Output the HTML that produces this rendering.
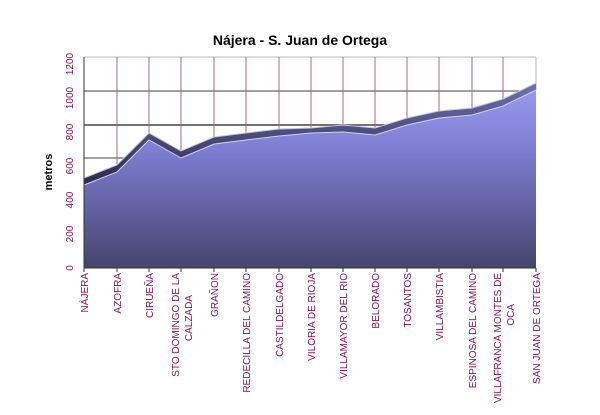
<!DOCTYPE html>
<html><head><meta charset="utf-8"><style>
body{margin:0;background:#fff;}
svg{display:block;font-family:"Liberation Sans",Arial,sans-serif;}
</style></head><body>
<svg width="600" height="415" viewBox="0 0 600 415">
<defs>
<linearGradient id="g" x1="0" y1="0" x2="0" y2="1" gradientUnits="objectBoundingBox">
<stop offset="0" stop-color="#9898f0"/><stop offset="0.35" stop-color="#7c7cd0"/><stop offset="1" stop-color="#45456e"/></linearGradient>
<linearGradient id="t" x1="0" y1="0" x2="0" y2="1">
<stop offset="0" stop-color="#7070b0"/><stop offset="1" stop-color="#2a2a48"/></linearGradient>
</defs>
<text x="300" y="45" font-size="14" font-weight="bold" text-anchor="middle">Nájera - S. Juan de Ortega</text>
<text transform="translate(52,172) rotate(-90)" font-size="11" font-weight="bold" text-anchor="middle">metros</text>
<g fill="#8b1050" font-size="10" text-anchor="middle">
<text transform="translate(73,268) rotate(-90)">0</text>
<text transform="translate(73,234) rotate(-90)">200</text>
<text transform="translate(73,200) rotate(-90)">400</text>
<text transform="translate(73,166) rotate(-90)">600</text>
<text transform="translate(73,132) rotate(-90)">800</text>
<text transform="translate(73,98) rotate(-90)">1000</text>
<text transform="translate(73,64) rotate(-90)">1200</text>
</g>
<line x1="84" y1="57" x2="536" y2="57" stroke="#bbb"/>
<line x1="536" y1="57" x2="536" y2="90" stroke="#bbb"/>
<line x1="84" y1="91" x2="536" y2="91" stroke="#444"/>
<line x1="84" y1="125" x2="536" y2="125" stroke="#444" stroke-width="1.5"/>
<line x1="84" y1="158" x2="400" y2="158" stroke="#444"/>
<g stroke="#b06080" stroke-width="1">
<line x1="117" y1="57" x2="117" y2="200"/><line x1="149" y1="57" x2="149" y2="200"/><line x1="181" y1="57" x2="181" y2="200"/><line x1="214" y1="57" x2="214" y2="200"/><line x1="246" y1="57" x2="246" y2="200"/><line x1="279" y1="57" x2="279" y2="200"/><line x1="311" y1="57" x2="311" y2="200"/><line x1="343" y1="57" x2="343" y2="200"/><line x1="375" y1="57" x2="375" y2="200"/><line x1="407" y1="57" x2="407" y2="200"/><line x1="439" y1="57" x2="439" y2="200"/><line x1="472" y1="57" x2="472" y2="200"/><line x1="503" y1="57" x2="503" y2="200"/>
</g>
<polygon fill="url(#t)" points="84,178 117,165 149,133 181,151 214,137 246,133 279,129 311,128 343,125 375,128 407,118 439,111 472,108 503,99 536,83 536,90 503,106 472,115 439,118 407,125 375,135 343,132 311,133 279,136 246,140 214,144 181,158 149,140 117,172 84,185"/>
<polyline fill="none" stroke="#c8c8e0" stroke-width="1" points="84,178 117,165 149,133 181,151 214,137 246,133 279,129 311,128 343,125 375,128 407,118 439,111 472,108 503,99 536,83"/>
<polygon fill="url(#g)" points="84,185 117,172 149,140 181,158 214,144 246,140 279,136 311,133 343,132 375,135 407,125 439,118 472,115 503,106 536,90 536,268 84,268"/>
<polyline fill="none" stroke="#d0d0f0" stroke-width="1" points="84,185 117,172 149,140 181,158 214,144 246,140 279,136 311,133 343,132 375,135 407,125 439,118 472,115 503,106 536,90"/>
<line x1="84" y1="57" x2="84" y2="268" stroke="#333"/>
<line x1="84" y1="268" x2="536" y2="268" stroke="#333"/>
<g stroke="#333"><line x1="84" y1="268" x2="84" y2="272"/><line x1="117" y1="268" x2="117" y2="272"/><line x1="149" y1="268" x2="149" y2="272"/><line x1="181" y1="268" x2="181" y2="272"/><line x1="214" y1="268" x2="214" y2="272"/><line x1="246" y1="268" x2="246" y2="272"/><line x1="279" y1="268" x2="279" y2="272"/><line x1="311" y1="268" x2="311" y2="272"/><line x1="343" y1="268" x2="343" y2="272"/><line x1="375" y1="268" x2="375" y2="272"/><line x1="407" y1="268" x2="407" y2="272"/><line x1="439" y1="268" x2="439" y2="272"/><line x1="472" y1="268" x2="472" y2="272"/><line x1="503" y1="268" x2="503" y2="272"/><line x1="536" y1="268" x2="536" y2="272"/></g>
<g fill="#8b1050" font-size="10" text-anchor="end">
<text transform="translate(88,273) rotate(-90)">NÁJERA</text>
<text transform="translate(121,273) rotate(-90)">AZOFRA</text>
<text transform="translate(153,273) rotate(-90)">CIRUEÑA</text>
<text transform="translate(179,273) rotate(-90)">STO DOMINGO DE LA</text>
<text transform="translate(192,273) rotate(-90)"><tspan x="-22">CALZADA</tspan></text>
<text transform="translate(218,273) rotate(-90)">GRAÑON</text>
<text transform="translate(250,273) rotate(-90)">REDECILLA DEL CAMINO</text>
<text transform="translate(283,273) rotate(-90)">CASTILDELGADO</text>
<text transform="translate(315,273) rotate(-90)">VILORIA DE RIOJA</text>
<text transform="translate(347,273) rotate(-90)">VILLAMAYOR DEL RIO</text>
<text transform="translate(379,273) rotate(-90)">BELORADO</text>
<text transform="translate(411,273) rotate(-90)">TOSANTOS</text>
<text transform="translate(443,273) rotate(-90)">VILLAMBISTIA</text>
<text transform="translate(476,273) rotate(-90)">ESPINOSA DEL CAMINO</text>
<text transform="translate(501,273) rotate(-90)">VILLAFRANCA MONTES DE</text>
<text transform="translate(514,273) rotate(-90)"><tspan x="-31">OCA</tspan></text>
<text transform="translate(540,273) rotate(-90)">SAN JUAN DE ORTEGA</text>
</g>
</svg>
</body></html>
